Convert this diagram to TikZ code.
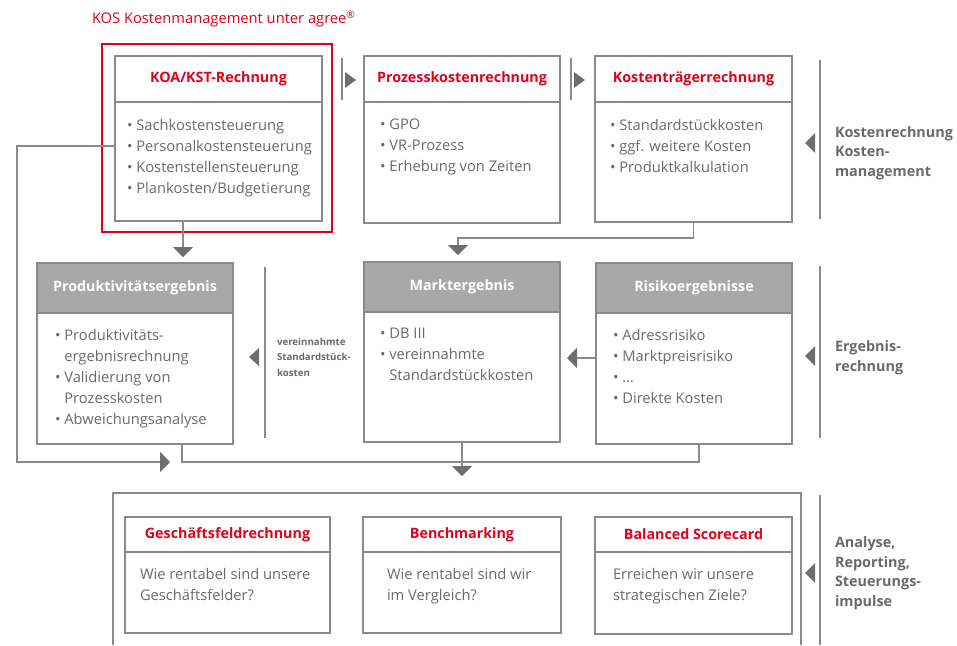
\documentclass[tikz,border=0pt]{standalone}
\usepackage{fontspec}
\setmainfont{Open Sans}
\usetikzlibrary{arrows.meta, positioning}
\definecolor{kosred}{HTML}{E2001A}
\definecolor{txtgray}{HTML}{6A6A6A}
\definecolor{linegray}{HTML}{8A8A8A}
\definecolor{tipgray}{HTML}{6E6E6E}
\definecolor{headgray}{HTML}{A8A8A8}

\begin{document}
\begin{tikzpicture}[
    x=1pt, y=-1pt,
    line width=1.2pt,
    every node/.style={inner sep=0pt, outer sep=0pt, text=txtgray, font=\fontsize{14.7}{21}\selectfont},
    line/.style={draw=linegray},
    flow/.style={draw=linegray, -{Triangle[width=20pt, length=10pt, color=tipgray]}},
    tip/.style={fill=tipgray},
    redhead/.style={draw=linegray, minimum width=#1, text=kosred, font=\fontsize{14.3}{16}\selectfont\bfseries},
    greyhead/.style={draw=linegray, fill=headgray, minimum width=#1, minimum height=50, text=white, font=\fontsize{14.3}{16}\selectfont\bfseries},
    boxbody/.style={draw=linegray, minimum width=#1},
    list/.style={align=left},
    side/.style={align=left, anchor=west, font=\fontsize{14.4}{19.5}\selectfont\bfseries},
    smallside/.style={align=left, anchor=west, font=\fontsize{9.7}{15.5}\selectfont\bfseries}
]
\useasboundingbox (0,0) rectangle (957,645);

% Titel
\node[anchor=west, text=kosred] (title) at (92,19) {KOS Kostenmanagement unter agree\textsuperscript{®}};

% Kostenrechnung
\node[draw=kosred, minimum width=230, minimum height=188, anchor=north west] (koaFrame) at (102,44) {};
\node[redhead=207, minimum height=46, anchor=north west] (koaH) at (115,56) {KOA/KST-Rechnung};
\node[boxbody=207, minimum height=119, below=0pt of koaH] (koaB) {};
\node[list, below right=17pt and 12pt of koaB.north west] (koaL) {• Sachkostensteuerung\\• Personalkostensteuerung\\• Kostenstellensteuerung\\• Plankosten/Budgetierung};

\node[redhead=196, minimum height=46, anchor=north west] (pkrH) at (364,56) {Prozesskostenrechnung};
\node[boxbody=196, minimum height=121, below=0pt of pkrH] (pkrB) {};
\node[list, below right=17pt and 16pt of pkrB.north west] (pkrL) {• GPO\\• VR-Prozess\\• Erhebung von Zeiten};

\node[redhead=197, minimum height=46, anchor=north west] (ktrH) at (595,56) {Kostenträgerrechnung};
\node[boxbody=197, minimum height=120, below=0pt of ktrH] (ktrB) {};
\node[list, below right=17pt and 15pt of ktrB.north west] (ktrL) {• Standardstückkosten\\• ggf. weitere Kosten\\• Produktkalkulation};

% Ergebnisrechnung
\node[greyhead=196, anchor=north west] (prodH) at (37,263) {Produktivitätsergebnis};
\node[boxbody=196, minimum height=131, below=0pt of prodH] (prodB) {};
\node[list, below right=16pt and 18pt of prodB.north west] (prodL) {• Produktivitäts-\\\phantom{• }ergebnisrechnung\\• Validierung von\\\phantom{• }Prozesskosten\\• Abweichungsanalyse};

\node[greyhead=196, anchor=north west] (markH) at (364,262) {Marktergebnis};
\node[boxbody=196, minimum height=130, below=0pt of markH] (markB) {};
\node[list, below right=16pt and 16pt of markB.north west] (markL) {• DB III\\• vereinnahmte\\\phantom{• }Standardstückkosten};

\node[greyhead=196, anchor=north west] (riskH) at (596,263) {Risikoergebnisse};
\node[boxbody=196, minimum height=131, below=0pt of riskH] (riskB) {};
\node[list, below right=16pt and 17pt of riskB.north west] (riskL) {• Adressrisiko\\• Marktpreisrisiko\\• …\\• Direkte Kosten};

% Analyse
\draw[line] (113,645) |- (801,493) -- (801,645);
\node[redhead=205, minimum height=35, anchor=north west] (gfrH) at (125,517) {Geschäftsfeldrechnung};
\node[boxbody=205, minimum height=81, below=0pt of gfrH] (gfrB) {};
\node[list, below right=16pt and 15pt of gfrB.north west] (gfrL) {Wie rentabel sind unsere\\Geschäftsfelder?};

\node[redhead=198, minimum height=35, anchor=north west] (bmkH) at (363,517) {Benchmarking};
\node[boxbody=198, minimum height=81, below=0pt of bmkH] (bmkB) {};
\node[list, below right=16pt and 24pt of bmkB.north west] (bmkL) {Wie rentabel sind wir\\im Vergleich?};

\node[redhead=197, minimum height=35, anchor=north west] (bscH) at (595,517) {Balanced Scorecard};
\node[boxbody=197, minimum height=82, below=0pt of bscH] (bscB) {};
\node[list, below right=16pt and 18pt of bscB.north west] (bscL) {Erreichen wir unsere\\strategischen Ziele?};

% Seitenbeschriftung
\node[side] (lblKosten) at (835,153) {Kostenrechnung\\Kosten-\\management};
\node[side] (lblErgebnis) at (835,358) {Ergebnis-\\rechnung};
\node[side] (lblAnalyse) at (835,573) {Analyse,\\Reporting,\\Steuerungs-\\impulse};
\node[smallside] (lblStueck) at (277,357) {vereinnahmte\\Standardstück-\\kosten};

% Trenner mit Pfeilspitzen
\foreach \x in {342,571} {
  \draw[line] (\x,58) -- (\x,100);
  \fill[tip] (\x+3,72) -- (\x+14,80) -- (\x+3,88) -- cycle;
}
\foreach \a/\b/\m in {60/219/143, 266/438/356, 495/645/573} {
  \draw[line] (820,\a) -- (820,\b);
  \fill[tip] (815,\m-10) -- (805,\m) -- (815,\m+10) -- cycle;
}
\draw[line] (265,267) -- (265,438);
\fill[tip] (259,348) -- (249,357) -- (259,366) -- cycle;

% Verbindungen
\coordinate (koaDrop) at (183,0);
\coordinate (loopEnd) at (170,462);
\draw[flow, shorten >=6pt] (koaB.south -| koaDrop) -- (prodH.north -| koaDrop);
\draw[flow] (ktrB.south) -- ++(0,16) -| ([xshift=-4pt, yshift=7pt]markH.north);
\draw[flow, shorten >=7pt] (riskB.west |- 0,358) -- (markB.east |- 0,358);
\draw[flow] (koaB.west |- 0,146) -| (17,462) -- (loopEnd);
\draw[line] (prodB.south -| 182,0) -- (182,462) -| (riskB.south -| 699,0);
\draw[flow] (markB.south) -- ++(0,34);

\end{tikzpicture}
\end{document}
